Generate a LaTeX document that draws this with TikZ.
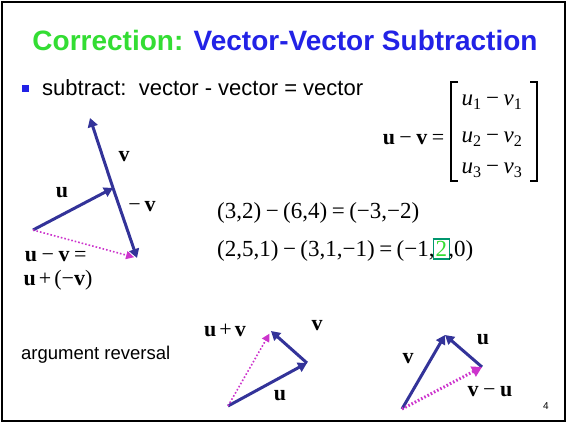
\documentclass[tikz,border=0pt]{standalone}
\usepackage{fontspec}
\setmainfont{Liberation Serif}
\newfontfamily\slidesans{Liberation Sans}
\usetikzlibrary{arrows.meta}
\definecolor{VecBlue}{RGB}{51,51,153}
\definecolor{ResPink}{RGB}{204,51,204}
\definecolor{TitleGreen}{RGB}{51,221,51}
\definecolor{TitleBlue}{RGB}{34,34,230}
\definecolor{BoxTeal}{RGB}{0,150,110}
\newcommand{\op}[1]{\kern4.5pt#1\kern4.5pt}
\tikzset{
  vec/.style={VecBlue, line width=3pt, -{Triangle[length=9pt,width=10pt]}},
  res/.style={ResPink, line width=1.6pt, dotted, -{Triangle[length=8pt,width=8pt]}},
  lbl/.style={font=\fontsize{22}{24}\selectfont, inner sep=0pt},
  bold/.style={font=\fontsize{22}{24}\selectfont\bfseries, inner sep=0pt},
  eqn/.style={font=\fontsize{23}{26}\selectfont, inner sep=0pt, anchor=west},
}
\begin{document}
\begin{tikzpicture}[x=1pt,y=-1pt]
  \useasboundingbox (0,0) rectangle (572,428);
  \draw[line width=2.5pt] (2,2) rectangle (565,421);

  % title and bullet
  \node[font=\slidesans\fontsize{28}{32}\selectfont\bfseries] (title) at (285,40)
    {\textcolor{TitleGreen}{Correction:} \textcolor{TitleBlue}{Vector-Vector Subtraction}};
  \node[fill=TitleBlue, minimum size=7pt, inner sep=0pt] (bullet) at (25.5,88.5) {};
  \node[anchor=west, inner sep=0pt, font=\slidesans\fontsize{22}{24}\selectfont] (subtract) at (42,88)
    {subtract:\ \ vector - vector = vector};

  % component form
  \node[lbl, anchor=east] (uminusv) at (449,140) {\textbf{u}\op{−}\textbf{v}\op{=}};
  \draw[line width=1.2pt] (458,82) -- (451,82) -- (451,181) -- (458,181);
  \draw[line width=1.2pt] (530,82) -- (537,82) -- (537,181) -- (530,181);
  \foreach \i/\y in {1/102,2/139,3/170} {
    \node[font=\fontsize{23}{26}\selectfont, inner sep=0pt] (row\i) at (492,\y)
      {\textit{u}\textsubscript{\i}\op{−}\textit{v}\textsubscript{\i}};
  }

  % worked examples
  \node[eqn] (ex1) at (217,213) {(3,2)\op{−}(6,4)\op{=}(−3,−2)};
  \node[eqn] (ex2) at (217,250) {(2,5,1)\op{−}(3,1,−1)\op{=}(−1,\kern-2pt{\setlength\fboxsep{1.5pt}\setlength\fboxrule{1.6pt}\fcolorbox{BoxTeal}{white}{\textcolor{TitleGreen}{2}}}\kern-2pt,0)};

  % u - v = u + (-v)
  \coordinate (oa) at (33,230);
  \coordinate (pa) at (113,188);
  \coordinate (va) at (90,118);
  \coordinate (mva) at (137,258);
  \draw[vec] (oa) -- (pa);
  \draw[vec] (pa) -- (va);
  \draw[vec] (pa) -- (mva);
  \draw[res, shorten >=3pt] (oa) -- (mva);
  \node[bold] (la-v) at (124,157) {v};
  \node[bold] (la-u) at (62,193) {u};
  \node[lbl] (la-mv) at (142,207) {−\kern4pt\textbf{v}};
  \node[lbl] (la-diff) at (58,257) {\textbf{u}\op{−}\textbf{v}\op{=}};
  \node[lbl] (la-sum) at (58,280) {\textbf{u}\kern3pt+\kern3pt(−\textbf{v})};

  % argument reversal
  \node[anchor=west, inner sep=0pt, font=\slidesans\fontsize{18.5}{22}\selectfont] (reversal) at (21,355) {argument reversal};
  \coordinate (ob) at (228,406);
  \coordinate (pb) at (307,363);
  \coordinate (qb) at (271,331);
  \draw[vec] (ob) -- (pb);
  \draw[vec] (pb) -- (qb);
  \draw[res, shorten >=3pt] (ob) -- (qb);
  \node[lbl] (lb-sum) at (225,330) {\textbf{u}\kern3pt+\kern3pt\textbf{v}};
  \node[bold] (lb-v) at (317,326) {v};
  \node[bold] (lb-u) at (280,396) {u};

  \coordinate (oc) at (402,409);
  \coordinate (qc) at (445,335);
  \coordinate (pc) at (482,367);
  \draw[vec] (oc) -- (qc);
  \draw[vec] (pc) -- (qc);
  \draw[res, line width=3pt, -{Triangle[length=10pt,width=11pt]}] (oc) -- (pc);
  \node[bold] (lc-v) at (408,359) {v};
  \node[bold] (lc-u) at (483,340) {u};
  \node[lbl] (lc-diff) at (490,392) {\textbf{v}\op{−}\textbf{u}};

  \node[font=\slidesans\fontsize{10}{12}\selectfont] (page) at (546,406) {4};
\end{tikzpicture}
\end{document}
